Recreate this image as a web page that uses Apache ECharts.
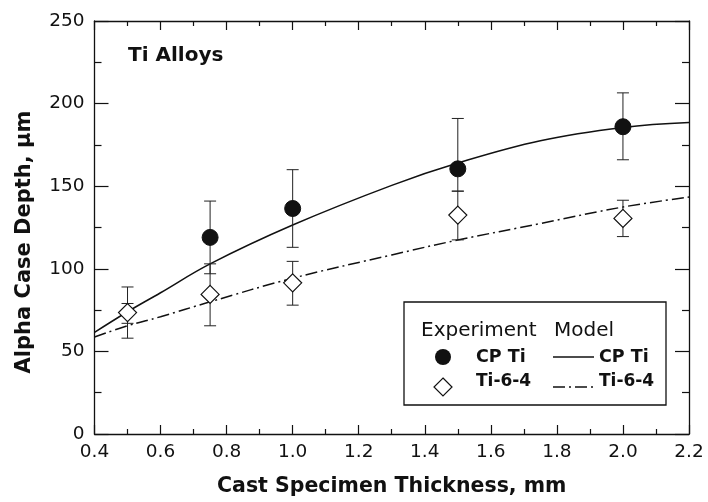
<!DOCTYPE html>
<html>
<head>
<meta charset="utf-8">
<script src="https://cdn.jsdelivr.net/npm/echarts@6/dist/echarts.min.js"></script>
<style>
html,body{margin:0;padding:0;background:#fff;}
#chart{width:708px;height:502px;}
</style>
</head>
<body>
<div id="chart"></div>
<script>
// ---- data ----
const thickness = [0.5, 0.75, 1.0, 1.5, 2.0];
const cpTi      = [73, 119, 136.5, 160.5, 186];
const cpTiLow   = [67, 97, 113, 147, 166];
const cpTiHigh  = [79, 141, 160, 191, 206.5];
const ti64      = [73.5, 84.5, 91.5, 132.5, 130.5];
const ti64Low   = [58, 65.5, 78, 117.5, 119.5];
const ti64High  = [89, 103, 104.5, 147, 141.5];

const modelX       = [0.4, 0.5, 0.6, 0.75, 1.0, 1.3, 1.5, 1.75, 2.0, 2.2];
const cpTiModel    = [61.5, 74, 85.5, 103, 126.5, 150.5, 164, 177.5, 185.5, 188.5];
const ti64Model    = [58.7, 65.5, 71, 80, 94.3, 108.4, 117.4, 127.4, 137.4, 143.4];

const xTicks = [0.4, 0.6, 0.8, 1.0, 1.2, 1.4, 1.6, 1.8, 2.0, 2.2];
const yTicks = [0, 50, 100, 150, 200, 250];

// ---- chart ----
const INK = '#111';
const FONT = 'DejaVu Sans';
const chart = echarts.init(document.getElementById('chart'), null, {renderer: 'canvas'});

function pairs(xs, ys) { return xs.map((x, i) => [x, ys[i]]); }
function errData(xs, lo, hi) { return xs.map((x, i) => [x, lo[i], hi[i]]); }

function errRender(params, api) {
  const x = api.value(0), lo = api.value(1), hi = api.value(2);
  const a = api.coord([x, lo]), b = api.coord([x, hi]);
  const hw = 6;
  const st = {stroke: '#222', lineWidth: 1};
  return {type: 'group', children: [
    {type: 'line', shape: {x1: a[0], y1: a[1], x2: b[0], y2: b[1]}, style: st},
    {type: 'line', shape: {x1: a[0] - hw, y1: a[1], x2: a[0] + hw, y2: a[1]}, style: st},
    {type: 'line', shape: {x1: b[0] - hw, y1: b[1], x2: b[0] + hw, y2: b[1]}, style: st}
  ]};
}

const xMin = xTicks[0], xMax = xTicks[xTicks.length - 1];
const yMin = yTicks[0], yMax = yTicks[yTicks.length - 1];

function xAxisCfg(pos, showLabel) {
  return {
    type: 'value', position: pos, min: xMin, max: xMax, interval: 0.2,
    axisLine: {show: true, onZero: false, lineStyle: {color: INK, width: 1.3}},
    axisTick: {show: true, inside: true, length: 9, lineStyle: {color: INK, width: 1.2}},
    minorTick: {show: true, splitNumber: 2, length: 5, lineStyle: {color: INK, width: 1.2}},
    splitLine: {show: false},
    axisLabel: {show: showLabel, margin: 9, color: INK, fontFamily: FONT, fontSize: 18.5,
      formatter: v => Number(v).toFixed(1)}
  };
}
function yAxisCfg(pos, showLabel) {
  return {
    type: 'value', position: pos, min: yMin, max: yMax, interval: 50,
    axisLine: {show: true, onZero: false, lineStyle: {color: INK, width: 1.3}},
    axisTick: {show: true, inside: true, length: 14, lineStyle: {color: INK, width: 1.2}},
    minorTick: {show: true, splitNumber: 2, length: 7, lineStyle: {color: INK, width: 1.2}},
    splitLine: {show: false},
    axisLabel: {show: showLabel, margin: 10, color: INK, fontFamily: FONT, fontSize: 18.5}
  };
}

const bottomX = xAxisCfg('bottom', true);
bottomX.name = 'Cast Specimen Thickness, mm';
bottomX.nameLocation = 'middle';
bottomX.nameGap = 42;
bottomX.nameTextStyle = {color: INK, fontFamily: FONT, fontWeight: 'bold', fontSize: 20.5};

const option = {
  backgroundColor: '#fff',
  animation: false,
  grid: {left: 94.5, right: 19, top: 21, bottom: 65},
  xAxis: [bottomX, xAxisCfg('top', false)],
  yAxis: [yAxisCfg('left', true), yAxisCfg('right', false)],
  series: [
    {name: 'CP Ti model', type: 'line', data: pairs(modelX, cpTiModel), smooth: 0.4,
      symbol: 'none', z: 2, lineStyle: {color: INK, width: 1.5, type: 'solid'}},
    {name: 'Ti-6-4 model', type: 'line', data: pairs(modelX, ti64Model), smooth: 0.4,
      symbol: 'none', z: 2, lineStyle: {color: INK, width: 1.5, type: [12, 4, 2, 4]}},
    {name: 'Ti-6-4 err', type: 'custom', renderItem: errRender,
      data: errData(thickness, ti64Low, ti64High), z: 3},
    {name: 'CP Ti err', type: 'custom', renderItem: errRender,
      data: errData(thickness, cpTiLow, cpTiHigh), z: 3},
    {name: 'CP Ti', type: 'scatter', z: 4,
      data: pairs(thickness, cpTi).map((p, i) => i === 0 ? {value: p, symbolSize: 9} : p),
      symbol: 'circle', symbolSize: 16, itemStyle: {color: INK, borderColor: INK, opacity: 1}},
    {name: 'Ti-6-4', type: 'scatter', z: 5, data: pairs(thickness, ti64),
      symbol: 'diamond', symbolSize: [18, 18],
      itemStyle: {color: '#fff', borderColor: INK, borderWidth: 1.2, opacity: 1}}
  ],
  graphic: [
    {type: 'text', left: 128, top: 46, z: 10,
      style: {text: 'Ti Alloys', font: 'bold 20px "DejaVu Sans"', fill: INK}},
    {type: 'text', x: 25, y: 242, rotation: Math.PI / 2, z: 10,
      style: {text: 'Alpha Case Depth, μm', font: 'bold 21px "DejaVu Sans"', fill: INK,
        align: 'center', verticalAlign: 'middle'}},
    // legend box
    {type: 'rect', shape: {x: 404, y: 302, width: 262, height: 103}, z: 10,
      style: {fill: '#fff', stroke: INK, lineWidth: 1.3}},
    {type: 'text', x: 421, y: 331, z: 11,
      style: {text: 'Experiment', font: '20px "DejaVu Sans"', fill: INK, verticalAlign: 'middle'}},
    {type: 'text', x: 554, y: 331, z: 11,
      style: {text: 'Model', font: '20px "DejaVu Sans"', fill: INK, verticalAlign: 'middle'}},
    {type: 'circle', shape: {cx: 443, cy: 357, r: 8}, z: 11, style: {fill: INK}},
    {type: 'polygon', z: 11,
      shape: {points: [[443, 378], [452, 387], [443, 396], [434, 387]]},
      style: {fill: '#fff', stroke: INK, lineWidth: 1.2}},
    {type: 'text', x: 476, y: 357, z: 11,
      style: {text: 'CP Ti', font: 'bold 17.5px "DejaVu Sans"', fill: INK, verticalAlign: 'middle'}},
    {type: 'text', x: 476, y: 382, z: 11,
      style: {text: 'Ti-6-4', font: 'bold 17px "DejaVu Sans"', fill: INK, verticalAlign: 'middle'}},
    {type: 'line', shape: {x1: 553, y1: 357, x2: 594, y2: 357}, z: 11,
      style: {stroke: INK, lineWidth: 1.3}},
    {type: 'line', shape: {x1: 553, y1: 387, x2: 594, y2: 387}, z: 11,
      style: {stroke: INK, lineWidth: 1.3, lineDash: [12, 4, 2, 4]}},
    {type: 'text', x: 599, y: 357, z: 11,
      style: {text: 'CP Ti', font: 'bold 17.5px "DejaVu Sans"', fill: INK, verticalAlign: 'middle'}},
    {type: 'text', x: 599, y: 382, z: 11,
      style: {text: 'Ti-6-4', font: 'bold 17px "DejaVu Sans"', fill: INK, verticalAlign: 'middle'}}
  ]
};
chart.setOption(option);
</script>
</body>
</html>
